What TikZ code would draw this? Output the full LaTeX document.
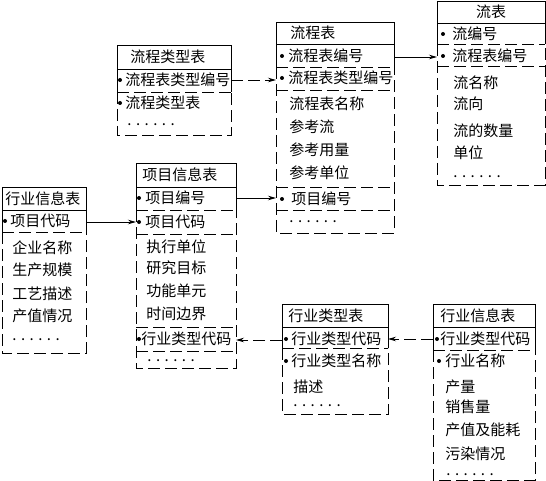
\documentclass[tikz,border=0pt]{standalone}
\usepackage{fontspec}
\setmainfont{Noto Sans CJK SC}
\usetikzlibrary{arrows.meta}
\begin{document}
\begin{tikzpicture}[>={Stealth[length=8pt,width=4.5pt]},x=1pt,y=-1pt,line width=0.8pt,
	dl/.style={dash pattern=on 12pt off 5pt},
	fld/.style={anchor=west,inner sep=0pt,font=\fontsize{15}{17}\selectfont}]
	\useasboundingbox (0,0) rectangle (546,481);
	% 流程类型表
	\draw (117,92) -- (117,45) -- (231,45) -- (231,92) (117,69) -- (231,69);
	\draw[dl] (117,92) -- (231,92) (117,92) -- (117,135) -- (231,135) -- (231,92);
	\node[fld] (A0) at (130,57) {流程类型表};
	\node[fld] (A1) at (125,80) {流程表类型编号};
	\node[fld] (A2) at (125,103) {流程类型表};
	\node[fld] (A3) at (127,125) {. . . . . .};
	\fill (120,80) circle (2pt) (120,103) circle (2pt);
	% 流程表
	\draw (276,67) -- (276,22) -- (394,22) -- (394,67) (276,44) -- (394,44);
	\draw[dl] (276,67) -- (394,67) (276,90) -- (394,90) (276,187) -- (394,187)
		(276,210) -- (394,210) (276,67) -- (276,233) -- (394,233) -- (394,67);
	\node[fld] (B0) at (290,33) {流程表};
	\node[fld] (B1) at (288,56) {流程表编号};
	\node[fld] (B2) at (288,78) {流程表类型编号};
	\foreach \y/\t in {104/流程表名称,127/参考流,150/参考用量,173/参考单位}
		\node[fld] (B\y) at (289,\y) {\t};
	\node[fld] (B3) at (291,199) {项目编号};
	\node[fld] (B4) at (289,222) {. . . . . .};
	\fill (282,56) circle (2pt) (282,78) circle (2pt) (282,199) circle (2pt);
	% 流表
	\draw (437,44) -- (437,1) -- (545,1) -- (545,44) (437,23) -- (545,23);
	\draw[dl] (437,44) -- (545,44) (437,66) -- (545,66) (437,44) -- (437,185) -- (545,185) -- (545,44);
	\node[fld,anchor=center] (C0) at (491,12) {流表};
	\node[fld] (C1) at (452,34) {流编号};
	\node[fld] (C2) at (452,56) {流程表编号};
	\foreach \y/\t in {83/流名称,104/流向,131/流的数量,153/单位}
		\node[fld] (C\y) at (453,\y) {\t};
	\node[fld] (C3) at (453,177) {. . . . . .};
	\fill (443,34) circle (2pt) (443,56) circle (2pt);
	% 行业信息表 (左)
	\draw (2,232) -- (2,187) -- (86,187) -- (86,232) (2,210) -- (86,210);
	\draw[dl] (2,232) -- (86,232) (2,232) -- (2,353) -- (86,353) -- (86,232);
	\node[fld] (D0) at (5,199) {行业信息表};
	\node[fld] (D1) at (10,221) {项目代码};
	\foreach \y/\t in {248/企业名称,270/生产规模,294/工艺描述,316/产值情况}
		\node[fld] (D\y) at (12,\y) {\t};
	\node[fld] (D2) at (12,340) {. . . . . .};
	\fill (5,221) circle (2pt);
	% 项目信息表
	\draw (136,210) -- (136,163) -- (236,163) -- (236,210) (136,187) -- (236,187);
	\draw[dl] (136,210) -- (236,210) (136,234) -- (236,234) (136,327) -- (236,327)
		(136,351) -- (236,351) (136,210) -- (136,368) -- (236,368) -- (236,210);
	\node[fld] (E0) at (142,175) {项目信息表};
	\node[fld] (E1) at (145,198) {项目编号};
	\node[fld] (E2) at (145,222) {项目代码};
	\foreach \y/\t in {247/执行单位,268/研究目标,291/功能单元,314/时间边界}
		\node[fld] (E\y) at (146,\y) {\t};
	\node[fld] (E3) at (141,339) {行业类型代码};
	\node[fld] (E4) at (147,361) {. . . . . .};
	\fill (139,198) circle (2pt) (139,222) circle (2pt) (139,339) circle (2pt);
	% 行业类型表
	\draw (282,348) -- (282,304) -- (388,304) -- (388,348) (282,327) -- (388,327);
	\draw[dl] (282,348) -- (388,348) (282,348) -- (282,414) -- (388,414) -- (388,348);
	\node[fld] (F0) at (288,316) {行业类型表};
	\node[fld] (F1) at (291,339) {行业类型代码};
	\node[fld] (F2) at (291,361) {行业类型名称};
	\node[fld] (F3) at (293,387) {描述};
	\node[fld] (F4) at (293,406) {. . . . . .};
	\fill (286,339) circle (2pt) (286,361) circle (2pt);
	% 行业信息表 (右)
	\draw (433,350) -- (433,304) -- (535,304) -- (535,350) (433,327) -- (535,327);
	\draw[dl] (433,350) -- (535,350) (433,350) -- (433,480) -- (535,480) -- (535,350);
	\node[fld] (G0) at (440,316) {行业信息表};
	\node[fld] (G1) at (440,339) {行业类型代码};
	\node[fld] (G2) at (445,361) {行业名称};
	\foreach \y/\t in {387/产量,407/销售量,430/产值及能耗,454/污染情况}
		\node[fld] (G\y) at (445,\y) {\t};
	\node[fld] (G3) at (446,475) {. . . . . .};
	\fill (437,339) circle (2pt) (439,361) circle (2pt);
	% 连线
	\coordinate (a1) at (231,80); \coordinate (b2) at (276,80);
	\coordinate (b1) at (394,57); \coordinate (c2) at (437,57);
	\coordinate (d1) at (86,222); \coordinate (e2) at (136,222);
	\coordinate (e1) at (236,198); \coordinate (b3) at (276,198);
	\coordinate (g1) at (433,339); \coordinate (f1r) at (388,339);
	\coordinate (f1l) at (282,340); \coordinate (e3) at (236,340);
	\draw[->,dl] (a1) -- (b2);
	\draw[->] (b1) -- (c2);
	\draw[->] (d1) -- (e2);
	\draw[->] (e1) -- (b3);
	\draw[->,dl] (g1) -- (f1r);
	\draw[->,dl] (f1l) -- (e3);
\end{tikzpicture}
\end{document}
